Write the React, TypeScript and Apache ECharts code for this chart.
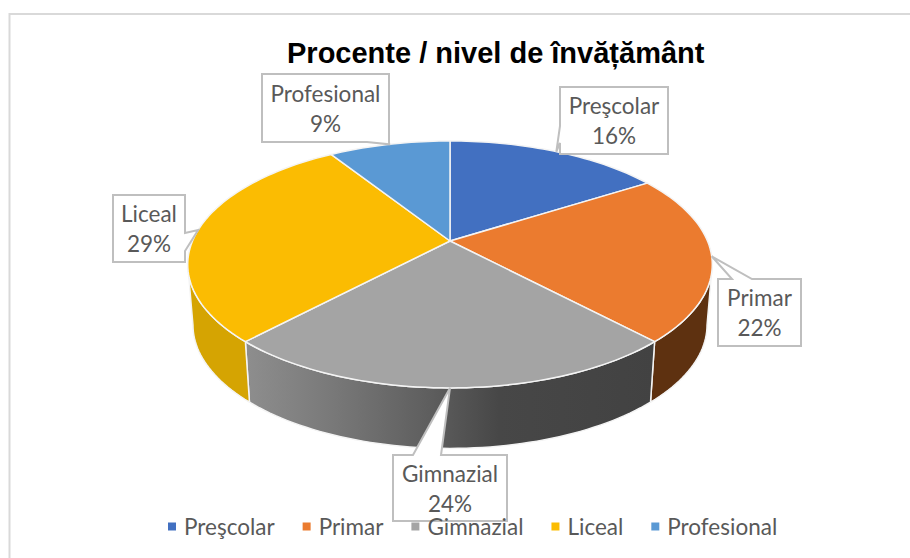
import React, { useEffect, useRef } from "react";
import * as echarts from "echarts";

const titleText = "Procente / nivel de învățământ";
const categories = ["Preşcolar", "Primar", "Gimnazial", "Liceal", "Profesional"];
const shares = [16, 22, 24, 29, 9];
const colors = ["#4270C1", "#EB7B2F", "#A4A4A4", "#FBBC02", "#5A99D4"];

const TOTAL = shares.reduce((a, b) => a + b, 0);
// perspective projection of the tilted disc
const CX = 450, CY = 241, RX = 257.5, RY = 119, TILT = 0.19, DEPTH = 60.5, FLOOR_SCALE = 0.98;
const VIS_FROM = (Math.acos(-TILT) * 180) / Math.PI;
const VIS_TO = 360 - VIS_FROM;

function rim(deg: number): [number, number] {
  const t = (deg * Math.PI) / 180;
  const u = Math.sin(t), v = -Math.cos(t), d = 1 - TILT * v;
  return [CX + (RX * u) / d, CY + (RY * v) / d];
}
function floor(deg: number): [number, number] {
  const [x, y] = rim(deg);
  return [CX + (x - CX) * FLOOR_SCALE, y + DEPTH];
}
function arc(a: number, b: number, fn: (d: number) => [number, number]) {
  const pts: [number, number][] = [];
  const n = Math.max(2, Math.ceil(Math.abs(b - a) / 1.5));
  for (let i = 0; i <= n; i++) pts.push(fn(a + ((b - a) * i) / n));
  return pts;
}
function span(i: number): [number, number] {
  const before = shares.slice(0, i).reduce((a, b) => a + b, 0);
  return [(before / TOTAL) * 360, ((before + shares[i]) / TOTAL) * 360];
}

const wallFills: any[] = [
  "#36588F",
  "#5E3110",
  new echarts.graphic.LinearGradient(0, 0, 1, 0, [
    { offset: 0, color: "#8E8E8E" },
    { offset: 0.2, color: "#7A7A7A" },
    { offset: 0.45, color: "#5E5E5E" },
    { offset: 0.62, color: "#474747" },
    { offset: 1, color: "#424242" },
  ]),
  "#D5A402",
  "#47799F",
];

type Box = { x: number; y: number; w: number; h: number; side: string; a: number; b: number };
const callouts: Box[] = [
  { x: 560, y: 87, w: 108, h: 67, side: "left", a: 143, b: 126 },
  { x: 718, y: 279, w: 83, h: 67, side: "top", a: 732, b: 752 },
  { x: 393, y: 455, w: 114, h: 66, side: "top", a: 413, b: 441 },
  { x: 113, y: 195, w: 72, h: 67, side: "right", a: 233, b: 251 },
  { x: 262, y: 74, w: 127, h: 68, side: "bottom", a: 389, b: 367 },
];

function calloutPoints(b: Box, tip: [number, number]) {
  const r = b.x + b.w, m = b.y + b.h;
  const pts: [number, number][] = [[b.x, b.y]];
  if (b.side === "top") pts.push([b.a, b.y], tip, [b.b, b.y]);
  pts.push([r, b.y]);
  if (b.side === "right") pts.push([r, b.a], tip, [r, b.b]);
  pts.push([r, m]);
  if (b.side === "bottom") pts.push([b.a, m], tip, [b.b, m]);
  pts.push([b.x, m]);
  if (b.side === "left") pts.push([b.x, b.a], tip, [b.x, b.b]);
  return pts;
}

function sliceRender(i: number) {
  return () => {
    const [a0, a1] = span(i);
    const children: any[] = [];
    const from = Math.max(a0, VIS_FROM), to = Math.min(a1, VIS_TO);
    if (to > from) {
      const top = arc(from, to, rim);
      const bottom = arc(from, to, floor).reverse();
      children.push({
        type: "polygon",
        shape: { points: [...top, ...bottom] },
        style: { fill: wallFills[i], stroke: "#F4F4F4", lineWidth: 1.5, lineJoin: "round" },
      });
    }
    children.push({
      type: "polygon",
      shape: { points: [[CX, CY], ...arc(a0, a1, rim)] },
      style: { fill: colors[i], stroke: "#F4F4F4", lineWidth: 1.5, lineJoin: "round" },
    });
    return { type: "group", children };
  };
}

function calloutRender(params: any) {
  const i = params.dataIndex;
  const [a0, a1] = span(i);
  const tip = rim((a0 + a1) / 2);
  const b = callouts[i];
  const cx = b.x + b.w / 2, cy = b.y + b.h / 2;
  const font = "22.5px Lato";
  return {
    type: "group",
    children: [
      {
        type: "polygon",
        shape: { points: calloutPoints(b, tip) },
        style: { fill: "#FFFFFF", stroke: "#BFBFBF", lineWidth: 2 },
      },
      {
        type: "text",
        style: { text: categories[i], x: cx, y: cy - 15, align: "center", verticalAlign: "middle", font, fill: "#595959" },
      },
      {
        type: "text",
        style: { text: `${shares[i]}%`, x: cx, y: cy + 15, align: "center", verticalAlign: "middle", font, fill: "#595959" },
      },
    ],
  };
}

export default function App() {
  const ref = useRef<HTMLDivElement>(null);
  useEffect(() => {
    const chart = echarts.init(ref.current!, undefined, { renderer: "svg" });
    chart.setOption({
      animation: false,
      backgroundColor: "#FFFFFF",
      title: {
        text: titleText,
        left: 282,
        top: 33,
        textStyle: { fontFamily: "Liberation Sans", fontWeight: "bold", fontSize: 29, color: "#000000" },
      },
      legend: {
        data: categories,
        left: 168,
        top: 515,
        padding: 0,
        icon: "rect",
        itemWidth: 8,
        itemHeight: 8,
        itemGap: 28,
        selectedMode: false,
        textStyle: { fontFamily: "Lato", fontSize: 22.5, color: "#595959", padding: [0, 0, 0, 3] },
      },
      graphic: [
        {
          type: "polyline",
          shape: { points: [[9.5, 558], [9.5, 14], [910, 14]] },
          style: { stroke: "#D9D9D9", lineWidth: 2, fill: "none" },
          silent: true,
        },
      ],
      series: [
        ...categories.map((name, i) => ({
          type: "custom",
          name,
          coordinateSystem: "none",
          itemStyle: { color: colors[i] },
          data: [[shares[i]]],
          renderItem: sliceRender(i),
          silent: true,
          z: 2,
        })),
        {
          type: "custom",
          name: "callouts",
          coordinateSystem: "none",
          data: shares.map((s) => [s]),
          renderItem: calloutRender,
          silent: true,
          z: 3,
        },
      ],
    });
    return () => chart.dispose();
  }, []);
  return <div ref={ref} style={{ position: "absolute", left: 0, top: 0, width: 910, height: 558 }} />;
}
